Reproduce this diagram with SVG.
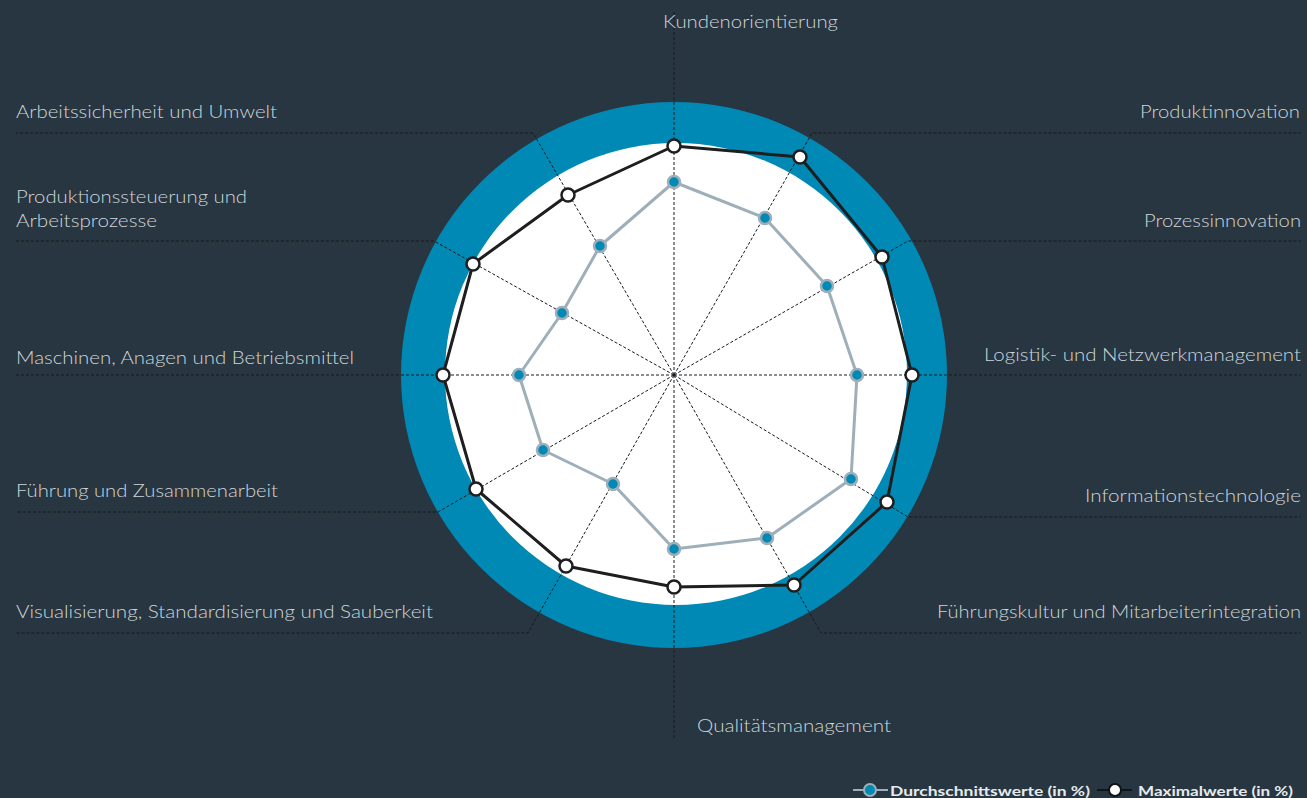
<svg xmlns="http://www.w3.org/2000/svg" width="1307" height="798" viewBox="0 0 1307 798">
<style>
.lbl{font-family:Lato,"Open Sans","Liberation Sans",sans-serif;font-weight:300;font-size:17.5px;fill:#cfd5d9}
.leg{font-family:Lato,"Open Sans","Liberation Sans",sans-serif;font-weight:700;font-size:14px;fill:#e6eaec}
.axis{fill:none;stroke:#161a1d;stroke-width:1;stroke-dasharray:3 2}
.avg{fill:none;stroke:#9eafba;stroke-width:3;stroke-linejoin:round}
.max{fill:none;stroke:#1e1e1e;stroke-width:3;stroke-linejoin:round}
.pa{fill:#0089b5;stroke:#9eafba;stroke-width:2.5}
.pm{fill:#ffffff;stroke:#1e1e1e;stroke-width:2.5}
</style>
<rect width="1307" height="798" fill="#273640"/>
<g id="ring">
<circle cx="674" cy="375" r="273" fill="#0089b5"/>
<circle cx="676" cy="374" r="231" fill="#ffffff"/>
</g>
<g id="connectors">
<path class="axis" d="M674,375 L674,12"/>
<path class="axis" d="M674,375 L812,133 L1301,133"/>
<path class="axis" d="M674,375 L908,241 L1301,241"/>
<path class="axis" d="M674,375 L1301,375"/>
<path class="axis" d="M674,375 L908,517 L1301,517"/>
<path class="axis" d="M674,375 L821,633 L1301,633"/>
<path class="axis" d="M674,375 L674,740"/>
<path class="axis" d="M674,375 L528,633 L16,633"/>
<path class="axis" d="M674,375 L438,512 L16,512"/>
<path class="axis" d="M674,375 L16,375"/>
<path class="axis" d="M674,375 L434,241 L16,241"/>
<path class="axis" d="M674,375 L533,133 L16,133"/>
</g>
<g id="series-avg">
<polygon class="avg" points="674,182 765,218 827,286 857,375 851,479 767,538 674,549 613,484 543,450 519,375 562,313 600,246"/>
<circle class="pa" cx="674" cy="182" r="6"/>
<circle class="pa" cx="765" cy="218" r="6"/>
<circle class="pa" cx="827" cy="286" r="6"/>
<circle class="pa" cx="857" cy="375" r="6"/>
<circle class="pa" cx="851" cy="479" r="6"/>
<circle class="pa" cx="767" cy="538" r="6"/>
<circle class="pa" cx="674" cy="549" r="6"/>
<circle class="pa" cx="613" cy="484" r="6"/>
<circle class="pa" cx="543" cy="450" r="6"/>
<circle class="pa" cx="519" cy="375" r="6"/>
<circle class="pa" cx="562" cy="313" r="6"/>
<circle class="pa" cx="600" cy="246" r="6"/>
</g>
<g id="series-max">
<polygon class="max" points="674,146 800,157 882,257 912,375 887,502 794,585 674,587 566,566 476,489 443,375 473,264 568,195"/>
<circle class="pm" cx="674" cy="146" r="6.5"/>
<circle class="pm" cx="800" cy="157" r="6.5"/>
<circle class="pm" cx="882" cy="257" r="6.5"/>
<circle class="pm" cx="912" cy="375" r="6.5"/>
<circle class="pm" cx="887" cy="502" r="6.5"/>
<circle class="pm" cx="794" cy="585" r="6.5"/>
<circle class="pm" cx="674" cy="587" r="6.5"/>
<circle class="pm" cx="566" cy="566" r="6.5"/>
<circle class="pm" cx="476" cy="489" r="6.5"/>
<circle class="pm" cx="443" cy="375" r="6.5"/>
<circle class="pm" cx="473" cy="264" r="6.5"/>
<circle class="pm" cx="568" cy="195" r="6.5"/>
</g>
<g id="labels">
<text class="lbl" x="663" y="28" textLength="175" lengthAdjust="spacingAndGlyphs">Kundenorientierung</text>
<text class="lbl" x="1140" y="118" textLength="160" lengthAdjust="spacingAndGlyphs">Produktinnovation</text>
<text class="lbl" x="1144" y="227" textLength="157" lengthAdjust="spacingAndGlyphs">Prozessinnovation</text>
<text class="lbl" x="984" y="361" textLength="317" lengthAdjust="spacingAndGlyphs">Logistik- und Netzwerkmanagement</text>
<text class="lbl" x="1085" y="502" textLength="216" lengthAdjust="spacingAndGlyphs">Informationstechnologie</text>
<text class="lbl" x="937" y="618" textLength="364" lengthAdjust="spacingAndGlyphs">Führungskultur und Mitarbeiterintegration</text>
<text class="lbl" x="697" y="732" textLength="194" lengthAdjust="spacingAndGlyphs">Qualitätsmanagement</text>
<text class="lbl" x="16" y="618" textLength="417" lengthAdjust="spacingAndGlyphs">Visualisierung, Standardisierung und Sauberkeit</text>
<text class="lbl" x="16" y="497" textLength="262" lengthAdjust="spacingAndGlyphs">Führung und Zusammenarbeit</text>
<text class="lbl" x="16" y="364" textLength="338" lengthAdjust="spacingAndGlyphs">Maschinen, Anagen und Betriebsmittel</text>
<text class="lbl" x="16" y="203" textLength="231" lengthAdjust="spacingAndGlyphs">Produktionssteuerung und</text>
<text class="lbl" x="16" y="227" textLength="141" lengthAdjust="spacingAndGlyphs">Arbeitsprozesse</text>
<text class="lbl" x="16" y="118" textLength="261" lengthAdjust="spacingAndGlyphs">Arbeitssicherheit und Umwelt</text>
</g>
<g id="legend">
<line x1="853" y1="790" x2="888" y2="790" stroke="#9eafba" stroke-width="2"/>
<circle cx="870" cy="790" r="6" fill="#0089b5" stroke="#9eafba" stroke-width="2"/>
<text class="leg" x="890" y="796" textLength="200" lengthAdjust="spacingAndGlyphs">Durchschnittswerte (in %)</text>
<line x1="1097" y1="790" x2="1132" y2="790" stroke="#111417" stroke-width="2"/>
<circle cx="1115" cy="790" r="6" fill="#ffffff" stroke="#111417" stroke-width="2"/>
<text class="leg" x="1138" y="796" textLength="155" lengthAdjust="spacingAndGlyphs">Maximalwerte (in %)</text>
</g>
</svg>
